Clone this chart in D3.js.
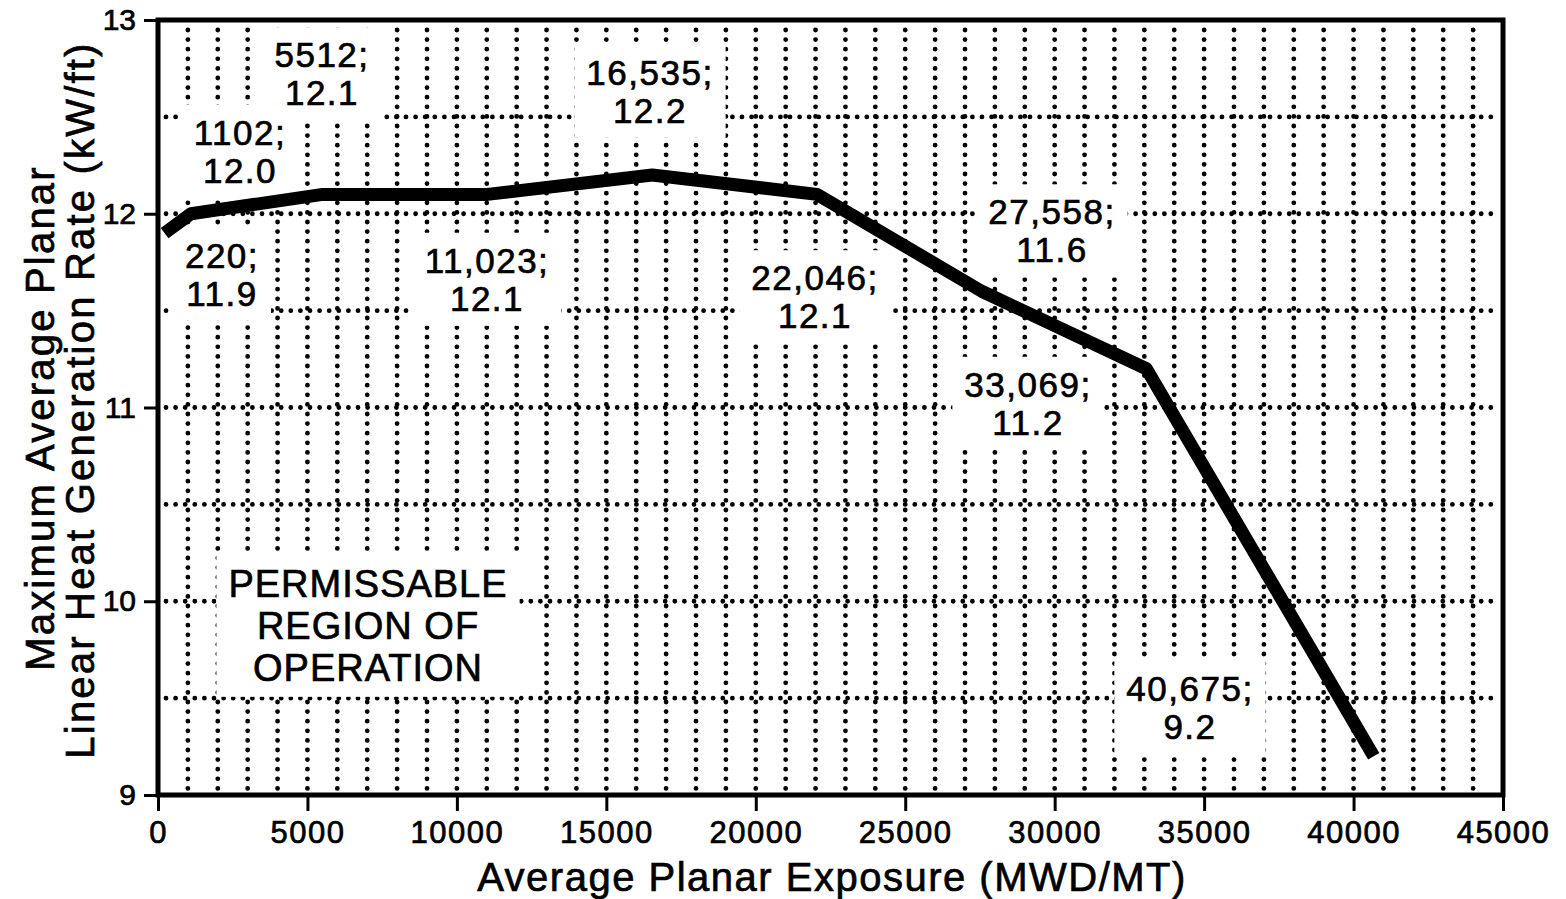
<!DOCTYPE html>
<html>
<head>
<meta charset="utf-8">
<script src="https://cdn.jsdelivr.net/npm/d3@7"></script>
<style>
  body { margin: 0; background: #fff; }
  text { font-family: "Liberation Sans", Arial, Helvetica, sans-serif; fill: #000; stroke: #000; stroke-width: 0.7px; }
</style>
</head>
<body>
<div id="chart"></div>
<script>
// data
var exposure = [220, 1102, 5512, 11023, 16535, 22046, 27558, 33069, 40675];
var heatRate = [11.9, 12.0, 12.1, 12.1, 12.2, 12.1, 11.6, 11.2, 9.2];
var exposureText = ["220;", "1102;", "5512;", "11,023;", "16,535;", "22,046;", "27,558;", "33,069;", "40,675;"];
var rateText = ["11.9", "12.0", "12.1", "12.1", "12.2", "12.1", "11.6", "11.2", "9.2"];

var xTicks = [0, 5000, 10000, 15000, 20000, 25000, 30000, 35000, 40000, 45000];
var yTicks = [9, 10, 11, 12, 13];
var regionText = ["PERMISSABLE", "REGION OF", "OPERATION"];

// where each annotation sits (data units, first line centre)
var labelX = [2141, 2743, 5487, 11007, 16460, 21981, 29910, 29107, 34527];
var labelY = [11.787, 12.42, 12.82, 11.76, 12.73, 11.67, 12.01, 11.12, 9.55];

var width = 1566, height = 899;
var margin = { top: 20, right: 63, bottom: 104, left: 158 };

var svg = d3.select("#chart").append("svg")
  .attr("width", width)
  .attr("height", height)
  .style("background", "#fff");

var x = d3.scaleLinear().domain([0, 45000]).range([margin.left, width - margin.right]);
var y = d3.scaleLinear().domain([9, 13]).range([height - margin.bottom, margin.top]);

// dotted grid
var grid = svg.append("g").attr("class", "grid")
  .attr("stroke", "#000")
  .attr("stroke-width", 4.8)
  .attr("stroke-linecap", "round")
  .attr("stroke-dasharray", "0,9.6");

grid.selectAll("line.v")
  .data(d3.range(1000, 45000, 1000))
  .enter().append("line")
  .attr("class", "v")
  .attr("x1", d => x(d)).attr("x2", d => x(d))
  .attr("y1", y(13) + 10).attr("y2", y(9) - 6);

grid.selectAll("line.h")
  .data(d3.range(9.5, 13, 0.5))
  .enter().append("line")
  .attr("class", "h")
  .attr("y1", d => y(d)).attr("y2", d => y(d))
  .attr("x1", x(0) + 8).attr("x2", x(45000) - 6);

// annotations with white patches that break the grid
var ann = svg.append("g");
var annText = svg.append("g");
var lineGap = 38;

exposure.forEach(function (d, i) {
  var g = annText.append("g");
  g.append("text")
    .attr("x", x(labelX[i])).attr("y", y(labelY[i]))
    .attr("text-anchor", "middle").attr("dominant-baseline", "central")
    .attr("font-size", 35).attr("letter-spacing", 1.5)
    .text(exposureText[i]);
  g.append("text")
    .attr("x", x(labelX[i])).attr("y", y(labelY[i]) + lineGap)
    .attr("text-anchor", "middle").attr("dominant-baseline", "central")
    .attr("font-size", 35).attr("letter-spacing", 1.5)
    .text(rateText[i]);
});

var region = annText.append("g");
regionText.forEach(function (t, i) {
  region.append("text")
    .attr("x", x(7026)).attr("y", y(10.09) + i * 42)
    .attr("text-anchor", "middle").attr("dominant-baseline", "central")
    .attr("font-size", 38).attr("letter-spacing", 1)
    .text(t);
});

annText.selectAll(":scope > g").each(function () {
  var b = this.getBBox();
  ann.append("rect")
    .attr("x", b.x - 12).attr("y", b.y - 8)
    .attr("width", b.width + 24).attr("height", b.height + 16)
    .attr("fill", "#fff");
});

// the limit curve
var pts = exposure.map((d, i) => [d, heatRate[i]]);
svg.insert("path", "g:last-of-type")
  .datum(pts)
  .attr("fill", "none")
  .attr("stroke", "#000")
  .attr("stroke-width", 13)
  .attr("stroke-linejoin", "round")
  .attr("d", d3.line().x(d => x(d[0])).y(d => y(d[1])));

// frame
svg.append("rect")
  .attr("x", x(0)).attr("y", y(13))
  .attr("width", x(45000) - x(0)).attr("height", y(9) - y(13))
  .attr("fill", "none")
  .attr("stroke", "#000")
  .attr("stroke-width", 5);

// axes
var xAxis = svg.append("g")
  .attr("transform", "translate(0," + y(9) + ")")
  .call(d3.axisBottom(x).tickValues(xTicks).tickSize(16).tickPadding(10).tickFormat(d3.format("d")));
xAxis.select(".domain").remove();
xAxis.selectAll(".tick line").attr("stroke-width", 3);
xAxis.selectAll(".tick text").attr("font-size", 31).attr("letter-spacing", 1.5).attr("font-family", null);

var yAxis = svg.append("g")
  .attr("transform", "translate(" + x(0) + ",0)")
  .call(d3.axisLeft(y).tickValues(yTicks).tickSize(14).tickPadding(8).tickFormat(d3.format("d")));
yAxis.select(".domain").remove();
yAxis.selectAll(".tick line").attr("stroke-width", 3);
yAxis.selectAll(".tick text").attr("font-size", 30).attr("font-family", null);

// titles
svg.append("text")
  .attr("x", 832).attr("y", 877)
  .attr("text-anchor", "middle").attr("dominant-baseline", "central")
  .attr("font-size", 40).attr("letter-spacing", 1.5)
  .text("Average Planar Exposure (MWD/MT)");

var yTitle = ["Maximum Average Planar", "Linear Heat Generation Rate (kW/ft)"];
var yTitleMid = [418, 400];
yTitle.forEach(function (t, i) {
  svg.append("text")
    .attr("transform", "translate(" + (40 + i * 40) + "," + yTitleMid[i] + ") rotate(-90)")
    .attr("text-anchor", "middle").attr("dominant-baseline", "central")
    .attr("font-size", 40).attr("letter-spacing", 2.2)
    .text(t);
});
</script>
</body>
</html>
